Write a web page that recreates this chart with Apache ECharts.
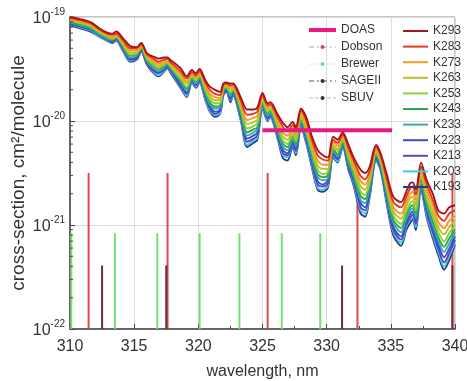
<!DOCTYPE html>
<html>
<head>
<meta charset="utf-8">
<script src="https://cdn.jsdelivr.net/npm/echarts@6/dist/echarts.min.js"></script>
<style>
  html, body { margin: 0; padding: 0; background: #fff; }
  #chart { width: 467px; height: 381px; }
</style>
</head>
<body>
<div id="chart"></div>
<script>
// wavelength grid, nm
const wavelength = [
  310.0, 310.8, 311.6, 312.3, 312.9, 313.3, 313.6, 314.1, 314.7, 315.2,
  315.55, 316.0, 316.5, 316.9, 317.3, 317.6, 317.8, 318.6, 319.1, 319.5,
  319.8, 320.1, 320.55, 320.9, 321.3, 321.7, 321.95, 322.2, 322.5, 322.7,
  323.3, 323.8, 324.3, 324.6, 325.0, 325.4, 325.6, 326.2, 326.6, 326.95,
  327.35, 327.6, 328.0, 328.4, 328.8, 329.3, 329.7, 330.1, 330.5, 330.85,
  331.25, 331.7, 332.1, 332.65, 333.0, 333.35, 333.85, 334.2, 334.7, 335.2,
  335.8, 336.2, 336.5, 336.7, 336.95, 337.35, 337.8, 338.3, 338.7, 339.15, 339.55, 340.0
]

// log10 of the cross-section (cm2/molecule) for each temperature
const K293 = [
  -19.00,-19.02,-19.05,-19.11,-19.15,-19.16,-19.14,-19.20,-19.28,-19.29,
  -19.25,-19.35,-19.38,-19.40,-19.39,-19.39,-19.41,-19.49,-19.57,-19.51,
  -19.54,-19.50,-19.61,-19.67,-19.70,-19.72,-19.64,-19.63,-19.64,-19.64,
  -19.77,-19.89,-19.89,-19.87,-19.73,-19.83,-19.82,-19.94,-20.02,-20.06,
  -20.01,-20.06,-19.88,-19.96,-20.13,-20.28,-20.33,-20.35,-20.15,-20.18,
  -20.11,-20.23,-20.35,-20.47,-20.50,-20.44,-20.23,-20.31,-20.52,-20.73,
  -20.78,-20.68,-20.60,-20.59,-20.66,-20.40,-20.57,-20.71,-20.86,-20.89,-20.83,-20.81
]
const K283 = [
  -19.01,-19.03,-19.06,-19.12,-19.16,-19.17,-19.16,-19.22,-19.30,-19.30,
  -19.26,-19.36,-19.40,-19.43,-19.41,-19.40,-19.43,-19.52,-19.59,-19.53,
  -19.56,-19.52,-19.63,-19.70,-19.74,-19.75,-19.65,-19.64,-19.66,-19.65,
  -19.80,-19.94,-19.93,-19.91,-19.75,-19.85,-19.84,-19.97,-20.06,-20.10,
  -20.04,-20.09,-19.90,-19.99,-20.16,-20.33,-20.37,-20.38,-20.18,-20.21,
  -20.13,-20.26,-20.38,-20.53,-20.56,-20.48,-20.25,-20.33,-20.56,-20.78,
  -20.83,-20.73,-20.65,-20.63,-20.71,-20.44,-20.61,-20.77,-20.91,-20.96,-20.89,-20.86
]
const K273 = [
  -19.02,-19.04,-19.07,-19.13,-19.17,-19.19,-19.17,-19.23,-19.32,-19.32,
  -19.27,-19.38,-19.42,-19.45,-19.43,-19.41,-19.44,-19.54,-19.62,-19.54,
  -19.58,-19.53,-19.66,-19.74,-19.77,-19.78,-19.67,-19.65,-19.68,-19.67,
  -19.83,-19.99,-19.97,-19.95,-19.77,-19.87,-19.85,-20.01,-20.11,-20.14,
  -20.07,-20.13,-19.92,-20.03,-20.20,-20.38,-20.42,-20.42,-20.20,-20.24,
  -20.14,-20.29,-20.42,-20.58,-20.61,-20.52,-20.27,-20.35,-20.59,-20.83,
  -20.89,-20.78,-20.70,-20.68,-20.76,-20.47,-20.66,-20.82,-20.97,-21.03,-20.96,-20.91
]
const K263 = [
  -19.03,-19.05,-19.08,-19.14,-19.18,-19.20,-19.18,-19.25,-19.34,-19.34,
  -19.28,-19.39,-19.44,-19.47,-19.45,-19.43,-19.46,-19.56,-19.64,-19.55,
  -19.59,-19.55,-19.68,-19.76,-19.80,-19.80,-19.68,-19.66,-19.70,-19.68,
  -19.85,-20.03,-20.01,-19.99,-19.79,-19.89,-19.87,-20.03,-20.15,-20.18,
  -20.10,-20.16,-19.95,-20.06,-20.24,-20.43,-20.46,-20.46,-20.23,-20.27,
  -20.16,-20.32,-20.45,-20.63,-20.66,-20.55,-20.29,-20.37,-20.63,-20.87,
  -20.94,-20.82,-20.74,-20.73,-20.81,-20.50,-20.71,-20.88,-21.02,-21.09,-21.02,-20.95
]
const K253 = [
  -19.04,-19.06,-19.09,-19.15,-19.19,-19.21,-19.19,-19.26,-19.36,-19.35,
  -19.29,-19.40,-19.46,-19.49,-19.46,-19.44,-19.47,-19.59,-19.67,-19.57,
  -19.61,-19.56,-19.70,-19.79,-19.83,-19.83,-19.69,-19.67,-19.73,-19.69,
  -19.88,-20.07,-20.05,-20.02,-19.80,-19.91,-19.89,-20.06,-20.19,-20.22,
  -20.13,-20.19,-19.97,-20.09,-20.27,-20.47,-20.51,-20.49,-20.25,-20.29,
  -20.18,-20.35,-20.48,-20.68,-20.71,-20.59,-20.30,-20.39,-20.66,-20.91,
  -20.99,-20.87,-20.79,-20.77,-20.86,-20.53,-20.75,-20.93,-21.07,-21.16,-21.08,-21.00
]
const K243 = [
  -19.05,-19.07,-19.10,-19.16,-19.20,-19.22,-19.20,-19.27,-19.37,-19.36,
  -19.30,-19.42,-19.47,-19.50,-19.48,-19.45,-19.48,-19.61,-19.69,-19.58,
  -19.62,-19.58,-19.72,-19.82,-19.86,-19.85,-19.70,-19.68,-19.74,-19.70,
  -19.90,-20.11,-20.08,-20.06,-19.82,-19.93,-19.90,-20.09,-20.22,-20.25,
  -20.15,-20.22,-19.99,-20.11,-20.30,-20.51,-20.54,-20.52,-20.27,-20.32,
  -20.19,-20.38,-20.51,-20.72,-20.75,-20.62,-20.32,-20.41,-20.69,-20.95,
  -21.03,-20.90,-20.83,-20.81,-20.89,-20.56,-20.79,-20.97,-21.12,-21.21,-21.13,-21.04
]
const K233 = [
  -19.05,-19.08,-19.11,-19.17,-19.21,-19.22,-19.20,-19.28,-19.39,-19.37,
  -19.30,-19.43,-19.49,-19.52,-19.49,-19.46,-19.49,-19.62,-19.71,-19.59,
  -19.64,-19.59,-19.74,-19.84,-19.88,-19.87,-19.71,-19.69,-19.76,-19.71,
  -19.92,-20.14,-20.11,-20.08,-19.83,-19.95,-19.92,-20.11,-20.25,-20.28,
  -20.18,-20.24,-20.00,-20.14,-20.33,-20.54,-20.57,-20.55,-20.29,-20.34,
  -20.21,-20.40,-20.53,-20.76,-20.79,-20.64,-20.33,-20.42,-20.72,-20.98,
  -21.07,-20.94,-20.86,-20.84,-20.93,-20.58,-20.82,-21.01,-21.15,-21.26,-21.18,-21.07
]
const K223 = [
  -19.06,-19.09,-19.12,-19.17,-19.21,-19.23,-19.21,-19.29,-19.40,-19.39,
  -19.31,-19.44,-19.50,-19.53,-19.50,-19.47,-19.50,-19.64,-19.73,-19.60,
  -19.65,-19.60,-19.76,-19.86,-19.91,-19.89,-19.73,-19.70,-19.78,-19.73,
  -19.94,-20.17,-20.14,-20.11,-19.84,-19.96,-19.93,-20.13,-20.28,-20.31,
  -20.20,-20.27,-20.02,-20.16,-20.36,-20.58,-20.61,-20.57,-20.30,-20.36,
  -20.22,-20.42,-20.56,-20.79,-20.83,-20.67,-20.34,-20.44,-20.74,-21.02,
  -21.11,-20.97,-20.90,-20.87,-20.96,-20.61,-20.85,-21.05,-21.19,-21.31,-21.23,-21.11
]
const K213 = [
  -19.07,-19.09,-19.12,-19.18,-19.22,-19.24,-19.22,-19.30,-19.41,-19.40,
  -19.32,-19.45,-19.52,-19.54,-19.51,-19.48,-19.51,-19.66,-19.74,-19.61,
  -19.66,-19.61,-19.77,-19.88,-19.93,-19.90,-19.73,-19.71,-19.79,-19.73,
  -19.96,-20.20,-20.17,-20.14,-19.85,-19.98,-19.94,-20.15,-20.31,-20.33,
  -20.22,-20.29,-20.03,-20.18,-20.38,-20.61,-20.63,-20.60,-20.32,-20.37,
  -20.23,-20.44,-20.58,-20.83,-20.86,-20.69,-20.36,-20.45,-20.77,-21.05,
  -21.14,-21.00,-20.93,-20.90,-20.99,-20.63,-20.88,-21.08,-21.23,-21.36,-21.27,-21.14
]
const K203 = [
  -19.07,-19.10,-19.13,-19.19,-19.23,-19.24,-19.23,-19.31,-19.42,-19.40,
  -19.32,-19.45,-19.53,-19.56,-19.52,-19.48,-19.52,-19.67,-19.76,-19.62,
  -19.67,-19.62,-19.79,-19.90,-19.94,-19.92,-19.74,-19.71,-19.80,-19.74,
  -19.98,-20.23,-20.19,-20.16,-19.87,-19.99,-19.95,-20.17,-20.33,-20.35,
  -20.23,-20.31,-20.05,-20.20,-20.40,-20.64,-20.66,-20.62,-20.33,-20.39,
  -20.24,-20.45,-20.60,-20.86,-20.89,-20.71,-20.37,-20.46,-20.79,-21.07,
  -21.17,-21.02,-20.95,-20.93,-21.02,-20.65,-20.91,-21.11,-21.26,-21.40,-21.30,-21.17
]
const K193 = [
  -19.08,-19.11,-19.14,-19.19,-19.23,-19.25,-19.23,-19.32,-19.43,-19.41,
  -19.33,-19.46,-19.54,-19.57,-19.53,-19.49,-19.53,-19.68,-19.77,-19.63,
  -19.68,-19.63,-19.80,-19.91,-19.96,-19.93,-19.75,-19.72,-19.82,-19.75,
  -19.99,-20.25,-20.21,-20.18,-19.88,-20.00,-19.96,-20.18,-20.36,-20.38,
  -20.25,-20.33,-20.06,-20.21,-20.42,-20.66,-20.68,-20.64,-20.35,-20.40,
  -20.25,-20.47,-20.62,-20.89,-20.92,-20.73,-20.38,-20.47,-20.81,-21.10,
  -21.20,-21.05,-20.98,-20.95,-21.05,-20.66,-20.93,-21.14,-21.29,-21.43,-21.34,-21.19
]

const tempNames = ['K293', 'K283', 'K273', 'K263', 'K253', 'K243', 'K233', 'K223', 'K213', 'K203', 'K193']
const tempCurves = [K293, K283, K273, K263, K253, K243, K233, K223, K213, K203, K193]
const tempColors = ['#a3161c', '#e8361e', '#f59a23', '#c4bd22', '#84d23c', '#2ea84a',
                    '#3aa8b0', '#3050cc', '#6a40c4', '#38cfe0', '#263c82']

// instrument wavelengths (nm) and stem tops (log10 cm2/molecule)
const dobsonNm = [311.45, 317.6, 325.4, 332.4, 339.8]
const dobsonTop = [-20.5, -20.5, -20.5, -20.5, -20.5]
const brewerNm = [310.1, 313.5, 316.8, 320.1, 323.2, 326.5, 329.5]
const brewerTop = [-21.08, -21.08, -21.08, -21.08, -21.08, -21.08, -21.08]
const sbuvNm = [312.5, 317.5, 331.2, 339.8]
const sbuvTop = [-21.39, -21.39, -21.39, -21.39]
const sageNm = []
const sageTop = []
const doasRange = [325.0, 335.1]
const doasLevel = -20.09

const xTicks = [310, 315, 320, 325, 330, 335, 340]
const yDecades = [-22, -21, -20, -19]
const yMinorMult = [2, 3, 4, 5, 6, 7, 8, 9]

const FONT = "'Liberation Sans', Arial, sans-serif"

function stems(nm, top) {
  const pts = []
  nm.forEach((w, i) => {
    pts.push([w, yDecades[0]], [w, top[i]], [w, '-'])
  })
  return pts
}

const minorTickData = []
yDecades.slice(0, -1).forEach(d => {
  yMinorMult.forEach(m => minorTickData.push([xTicks[0], d + Math.log10(m)]))
})

const chart = echarts.init(document.getElementById('chart'), null, { renderer: 'canvas' })

const series = []

series.push({
  name: 'Brewer', type: 'line', data: stems(brewerNm, brewerTop),
  symbol: 'none', color: '#74e074', lineStyle: { color: '#74e074', width: 2 }, z: 2
})
series.push({
  name: 'Dobson', type: 'line', data: stems(dobsonNm, dobsonTop),
  symbol: 'none', color: '#dc4a4a', lineStyle: { color: '#dc4a4a', width: 2 }, z: 2
})
series.push({
  name: 'SAGEII', type: 'line', data: stems(sageNm, sageTop),
  symbol: 'none', color: '#333', lineStyle: { color: '#333', width: 2 }, z: 2
})
series.push({
  name: 'SBUV', type: 'line', data: stems(sbuvNm, sbuvTop),
  symbol: 'none', color: '#6b2f3a', lineStyle: { color: '#6b2f3a', width: 2 }, z: 2
})

for (let i = tempNames.length - 1; i >= 0; i--) {
  series.push({
    name: tempNames[i],
    type: 'line',
    data: wavelength.map((w, j) => [w, tempCurves[i][j]]),
    symbol: 'none',
    smooth: 0.3,
    color: tempColors[i],
    lineStyle: { color: tempColors[i], width: 1.9 },
    z: 3
  })
}

series.push({
  name: 'DOAS', type: 'line',
  data: doasRange.map(w => [w, doasLevel]),
  symbol: 'none', color: '#e8197f', lineStyle: { color: '#e8197f', width: 4 }, z: 5
})

// log minor ticks on the y axis
series.push({
  type: 'custom',
  silent: true,
  clip: false,
  z: 6,
  data: minorTickData,
  encode: { x: 0, y: 1 },
  renderItem: (params, api) => {
    const p = api.coord([api.value(0), api.value(1)])
    return {
      type: 'line',
      shape: { x1: p[0], y1: p[1], x2: p[0] + 3, y2: p[1] },
      style: { stroke: '#444', lineWidth: 1 }
    }
  }
})

const option = {
  animation: false,
  backgroundColor: '#fff',
  textStyle: { fontFamily: FONT },
  grid: {
    left: 70, right: 12, top: 17, bottom: 52,
    containLabel: false, outerBoundsMode: 'none',
    show: true, borderColor: '#888', borderWidth: 1, backgroundColor: 'transparent'
  },
  legend: [
    {
      orient: 'vertical', left: 302, top: 19,
      itemWidth: 27, itemHeight: 5, itemGap: 5,
      selectedMode: false,
      textStyle: { fontSize: 12, color: '#333', fontFamily: FONT },
      data: [
        { name: 'DOAS', lineStyle: { color: '#e8197f', width: 4 }, itemStyle: { color: '#e8197f', opacity: 0 } },
        { name: 'Dobson', lineStyle: { color: '#aaa', width: 1, type: [5, 3, 2, 3] }, itemStyle: { color: '#d0406a' } },
        { name: 'Brewer', lineStyle: { color: '#e6e6e6', width: 1, type: 'dashed' }, itemStyle: { color: '#68d0d0' } },
        { name: 'SAGEII', lineStyle: { color: '#555', width: 1, type: [5, 3, 2, 3] }, itemStyle: { color: '#333' } },
        { name: 'SBUV', lineStyle: { color: '#bbb', width: 1, type: 'dashed' }, itemStyle: { color: '#333' } }
      ]
    },
    {
      orient: 'vertical', left: 398, top: 20,
      itemWidth: 25, itemHeight: 2, itemGap: 3.6,
      icon: 'rect',
      selectedMode: false,
      textStyle: { fontSize: 12, color: '#333', fontFamily: FONT },
      data: tempNames
    }
  ],
  xAxis: {
    type: 'value', min: xTicks[0], max: xTicks[xTicks.length - 1], interval: 5,
    name: 'wavelength, nm', nameLocation: 'middle', nameGap: 35, nameMoveOverlap: false,
    nameTextStyle: { fontSize: 16, color: '#333', fontFamily: FONT },
    axisLine: { show: true, onZero: false, lineStyle: { color: '#444', width: 1.5 } },
    axisTick: { show: true, inside: true, length: 5, lineStyle: { color: '#444' } },
    minorTick: { show: true, splitNumber: 2, length: 3, lineStyle: { color: '#444' } },
    axisLabel: { fontSize: 16, color: '#333', margin: 10, fontFamily: FONT },
    splitLine: { show: true, lineStyle: { color: '#dcdcdc', width: 1 } },
    minorSplitLine: { show: false }
  },
  yAxis: {
    type: 'value', min: yDecades[0], max: yDecades[yDecades.length - 1], interval: 1,
    name: 'cross-section, cm²/molecule', nameLocation: 'middle', nameGap: 42, nameMoveOverlap: false,
    nameTextStyle: { fontSize: 19, color: '#333', fontFamily: FONT },
    axisLine: { show: true, onZero: false, lineStyle: { color: '#444', width: 1.5 } },
    axisTick: { show: true, inside: true, length: 5, lineStyle: { color: '#444' } },
    axisLabel: {
      margin: 5,
      formatter: v => '{b|10}{s|' + v + '}',
      rich: {
        b: { fontSize: 16, color: '#333', fontFamily: FONT, verticalAlign: 'bottom' },
        s: { fontSize: 10, color: '#333', fontFamily: FONT, verticalAlign: 'bottom', padding: [0, 0, 9, 0] }
      }
    },
    splitLine: { show: true, lineStyle: { color: '#dcdcdc', width: 1 } }
  },
  series
}

chart.setOption(option)
</script>
</body>
</html>
